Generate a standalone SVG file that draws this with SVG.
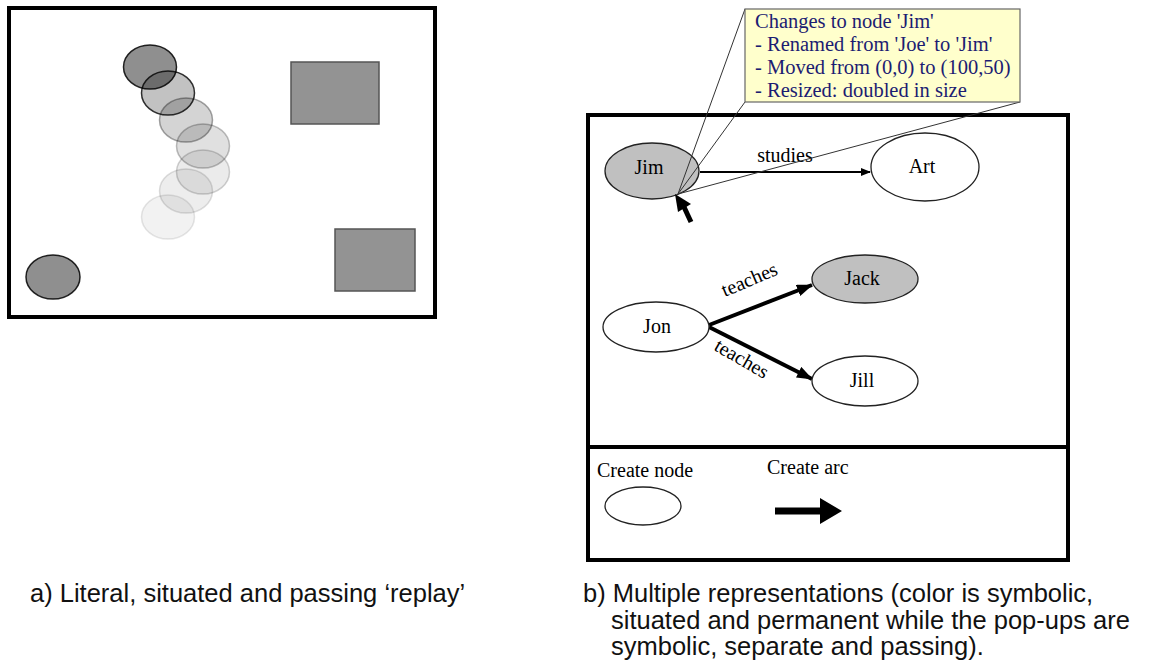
<svg xmlns="http://www.w3.org/2000/svg" width="1156" height="666" viewBox="0 0 1156 666">
<style>
.frame{fill:none;stroke:#000;stroke-width:4}
.node{stroke:#222;stroke-width:1.3}
.lbl{font-family:"Liberation Serif","Times New Roman",serif;font-size:20px;fill:#000}
.pop{font-family:"Liberation Serif","Times New Roman",serif;font-size:20.5px;fill:#1c1c72}
.cap{font-family:"Liberation Sans",Arial,sans-serif;font-size:25.5px;fill:#111}
.ghost{fill:#000;stroke:#000;stroke-width:1.5}
.box{fill:#939393;stroke:#555;stroke-width:1.5}
.call{stroke:#333;stroke-width:1;fill:none}
</style>
<defs>
<marker id="ah" markerWidth="10" markerHeight="8" refX="9" refY="4" orient="auto" markerUnits="userSpaceOnUse"><path d="M0,0 L10,4 L0,8 Z" fill="#000"/></marker>
<marker id="ahb" markerWidth="16" markerHeight="12" refX="15" refY="6" orient="auto" markerUnits="userSpaceOnUse"><path d="M0,0 L16,6 L0,12 Z" fill="#000"/></marker>
</defs>
<rect width="1156" height="666" fill="#fff"/>

<g id="panel-a">
<rect class="frame" x="9" y="8" width="426" height="309"/>
<rect class="box" x="291" y="62" width="88" height="62"/>
<rect class="box" x="335" y="229" width="80" height="62"/>
<ellipse class="ghost" cx="53" cy="277" rx="27" ry="22" fill-opacity="0.44" stroke-opacity="0.85"/>
<ellipse class="ghost" cx="150" cy="67" rx="26.5" ry="22" fill-opacity="0.44" stroke-opacity="0.85"/>
<ellipse class="ghost" cx="168" cy="93" rx="26.5" ry="22" fill-opacity="0.24" stroke-opacity="0.8"/>
<ellipse class="ghost" cx="186" cy="120" rx="26.5" ry="22" fill-opacity="0.17" stroke-opacity="0.35"/>
<ellipse class="ghost" cx="203" cy="146" rx="26.5" ry="22" fill-opacity="0.12" stroke-opacity="0.25"/>
<ellipse class="ghost" cx="203" cy="172" rx="26.5" ry="22" fill-opacity="0.08" stroke-opacity="0.18"/>
<ellipse class="ghost" cx="186" cy="191" rx="26.5" ry="22" fill-opacity="0.07" stroke-opacity="0.13"/>
<ellipse class="ghost" cx="168" cy="217" rx="26.5" ry="22" fill-opacity="0.05" stroke-opacity="0.1"/>
</g>

<g id="panel-b">
<rect class="frame" x="588" y="115" width="480" height="445"/>
<line x1="588" y1="447" x2="1068" y2="447" stroke="#000" stroke-width="4"/>
</g>

<g id="connectors">
<line x1="700" y1="172" x2="870" y2="172" stroke="#000" stroke-width="2" marker-end="url(#ah)"/>
<line x1="709" y1="325" x2="812" y2="285" stroke="#000" stroke-width="4" marker-end="url(#ahb)"/>
<line x1="709" y1="327" x2="812" y2="379" stroke="#000" stroke-width="4" marker-end="url(#ahb)"/>
<text class="lbl" x="785" y="162" text-anchor="middle">studies</text>
<text class="lbl" x="750" y="286" text-anchor="middle" transform="rotate(-23 750 281)">teaches</text>
<text class="lbl" x="741" y="365" text-anchor="middle" transform="rotate(30 741 360)">teaches</text>
</g>

<g id="node-jim">
<ellipse class="node" cx="652" cy="171" rx="47" ry="28" fill="#c0c0c0"/>
<text class="lbl" x="649" y="174" text-anchor="middle">Jim</text>
</g>
<g id="node-art">
<ellipse class="node" cx="925" cy="167" rx="54" ry="34" fill="#fff"/>
<text class="lbl" x="922" y="173" text-anchor="middle">Art</text>
</g>
<g id="node-jon">
<ellipse class="node" cx="656" cy="327" rx="53" ry="25" fill="#fff"/>
<text class="lbl" x="657" y="333" text-anchor="middle">Jon</text>
</g>
<g id="node-jack">
<ellipse class="node" cx="865" cy="279" rx="53" ry="24" fill="#c0c0c0"/>
<text class="lbl" x="862" y="285" text-anchor="middle">Jack</text>
</g>
<g id="node-jill">
<ellipse class="node" cx="865" cy="381" rx="53" ry="25" fill="#fff"/>
<text class="lbl" x="862" y="387" text-anchor="middle">Jill</text>
</g>

<g id="popup">
<line class="call" x1="678" y1="194" x2="745" y2="9"/>
<line class="call" x1="678" y1="194" x2="745" y2="102"/>
<line class="call" x1="678" y1="194" x2="1020" y2="102"/>
<rect x="745" y="9" width="275" height="93" fill="#ffffcc" stroke="#666" stroke-width="1.2"/>
<text class="pop" x="755" y="28">Changes to node 'Jim'</text>
<text class="pop" x="755" y="51">- Renamed from 'Joe' to 'Jim'</text>
<text class="pop" x="755" y="74">- Moved from (0,0) to (100,50)</text>
<text class="pop" x="755" y="97">- Resized: doubled in size</text>
</g>

<g id="cursor">
<polygon points="675,194 691,204 678,212" fill="#000"/>
<line x1="684" y1="207" x2="691" y2="222" stroke="#000" stroke-width="5"/>
</g>

<g id="palette">
<text class="lbl" x="597" y="477">Create node</text>
<ellipse class="node" cx="643" cy="506" rx="38" ry="19" fill="#fff"/>
<text class="lbl" x="767" y="474">Create arc</text>
<polygon points="775,507.5 820,507.5 820,498 842,511 820,524 820,514.5 775,514.5" fill="#000"/>
</g>

<g id="captions">
<text class="cap" x="30" y="602">a) Literal, situated and passing ‘replay’</text>
<text class="cap" x="583" y="602">b) Multiple representations (color is symbolic,</text>
<text class="cap" x="611" y="628.5">situated and permanent while the pop-ups are</text>
<text class="cap" x="611" y="655">symbolic, separate and passing).</text>
</g>
</svg>
